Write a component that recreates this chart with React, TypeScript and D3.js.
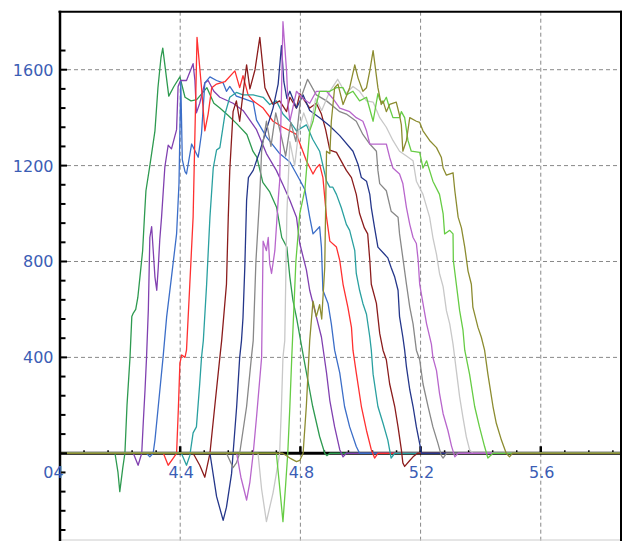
import * as d3 from "d3"

// x positions (energy) and counts, one array per trace
const GREEN: [number, number][] = [
  [4.0, 0], [4.166, 0], [4.183, 0], [4.193, -80], [4.199, -160], [4.209, -60], [4.216, 0], [4.223, 200], [4.233, 400],
  [4.239, 570], [4.244, 585], [4.252, 600], [4.259, 650], [4.266, 735], [4.275, 845], [4.281, 985], [4.286, 1095],
  [4.299, 1200], [4.316, 1345], [4.326, 1525], [4.336, 1650], [4.342, 1690], [4.362, 1490], [4.379, 1530],
  [4.399, 1570], [4.416, 1485], [4.436, 1470], [4.455, 1475], [4.489, 1525], [4.512, 1460], [4.532, 1440],
  [4.559, 1410], [4.588, 1375], [4.622, 1330], [4.642, 1260], [4.655, 1235], [4.675, 1130], [4.698, 1090],
  [4.721, 1025], [4.738, 900], [4.755, 860], [4.765, 735], [4.775, 640], [4.788, 560], [4.805, 440], [4.821, 330],
  [4.841, 195], [4.864, 70], [4.881, 0], [4.888, -10], [4.898, 0], [5.9, 0],
]

const PURPLE: [number, number][] = [
  [4.0, 0], [4.244, 0], [4.26, -50], [4.272, 0], [4.277, 125], [4.283, 265], [4.288, 400], [4.294, 600], [4.299, 900],
  [4.305, 945], [4.31, 850], [4.316, 735], [4.322, 680], [4.327, 775], [4.332, 890], [4.338, 985], [4.349, 1195],
  [4.36, 1285], [4.371, 1270], [4.388, 1350], [4.393, 1530], [4.401, 1555], [4.421, 1555], [4.443, 1625],
  [4.449, 1555], [4.454, 1420], [4.465, 1460], [4.482, 1545], [4.493, 1555], [4.512, 1510], [4.532, 1485],
  [4.576, 1460], [4.609, 1430], [4.654, 1350], [4.687, 1250], [4.72, 1180], [4.742, 1120], [4.765, 1055],
  [4.787, 985], [4.798, 875], [4.82, 765], [4.831, 680], [4.853, 570], [4.87, 485], [4.887, 335], [4.898, 220],
  [4.914, 110], [4.931, 15], [4.942, -15], [4.953, 0], [5.9, 0],
]

const BLUE: [number, number][] = [
  [4.0, 0], [4.288, 0], [4.299, -15], [4.31, 0], [4.316, 55], [4.327, 195], [4.343, 400], [4.355, 570], [4.371, 735],
  [4.388, 915], [4.396, 1125], [4.402, 1550], [4.407, 1225], [4.416, 1175], [4.421, 1165], [4.438, 1290],
  [4.46, 1235], [4.471, 1335], [4.482, 1545], [4.499, 1570], [4.521, 1555], [4.543, 1545], [4.554, 1510],
  [4.565, 1530], [4.587, 1490], [4.609, 1480], [4.643, 1465], [4.654, 1390], [4.687, 1320], [4.731, 1250],
  [4.765, 1215], [4.798, 1140], [4.815, 1100], [4.831, 985], [4.842, 915], [4.864, 945], [4.87, 860], [4.875, 680],
  [4.892, 625], [4.903, 540], [4.914, 430], [4.931, 335], [4.947, 195], [4.964, 110], [4.986, 28], [4.997, 0], [5.9, 0],
]

const RED: [number, number][] = [
  [4.0, 0], [4.344, 0], [4.36, -50], [4.377, -20], [4.388, 0], [4.394, 190], [4.399, 375], [4.405, 410], [4.416, 400],
  [4.421, 430], [4.432, 705], [4.443, 985], [4.456, 1735], [4.471, 1525], [4.482, 1345], [4.493, 1415],
  [4.505, 1525], [4.521, 1540], [4.549, 1550], [4.582, 1595], [4.598, 1525], [4.609, 1575], [4.626, 1495],
  [4.643, 1470], [4.676, 1440], [4.709, 1385], [4.742, 1360], [4.787, 1330], [4.82, 1220], [4.842, 1165],
  [4.853, 1190], [4.864, 1205], [4.875, 1150], [4.887, 985], [4.898, 885], [4.92, 860], [4.931, 805], [4.942, 705],
  [4.958, 610], [4.97, 525], [4.975, 430], [4.986, 335], [5.003, 195], [5.02, 95], [5.036, 15], [5.047, -20],
  [5.058, 0], [5.9, 0],
]

const TEAL: [number, number][] = [
  [4.0, 0], [4.404, 0], [4.421, -50], [4.432, -10], [4.443, 85], [4.454, 110], [4.465, 290], [4.471, 400],
  [4.477, 470], [4.488, 705], [4.499, 985], [4.51, 1190], [4.521, 1265], [4.532, 1275], [4.549, 1415],
  [4.565, 1485], [4.587, 1505], [4.609, 1495], [4.643, 1495], [4.676, 1485], [4.698, 1455], [4.72, 1470],
  [4.742, 1415], [4.765, 1385], [4.787, 1345], [4.82, 1370], [4.841, 1310], [4.864, 1260], [4.887, 1135],
  [4.898, 1110], [4.908, 1110], [4.92, 1080], [4.936, 1025], [4.953, 955], [4.964, 930], [4.981, 845],
  [4.986, 750], [4.997, 680], [5.008, 625], [5.02, 580], [5.031, 485], [5.036, 430], [5.042, 330], [5.058, 195],
  [5.075, 125], [5.091, 55], [5.102, -20], [5.114, 0], [5.9, 0],
]

const MAROON: [number, number][] = [
  [4.0, 0], [4.443, 0], [4.465, -50], [4.482, -100], [4.499, 0], [4.515, 195], [4.532, 400], [4.538, 470],
  [4.554, 705], [4.56, 985], [4.565, 1180], [4.576, 1425], [4.587, 1470], [4.598, 1385], [4.609, 1500],
  [4.621, 1620], [4.632, 1520], [4.649, 1600], [4.665, 1735], [4.682, 1525], [4.693, 1495], [4.709, 1455],
  [4.731, 1470], [4.754, 1425], [4.765, 1485], [4.787, 1440], [4.798, 1500], [4.831, 1440], [4.853, 1460],
  [4.87, 1415], [4.884, 1350], [4.898, 1265], [4.92, 1255], [4.953, 1180], [4.97, 1150], [4.986, 1080],
  [4.997, 1000], [5.013, 940], [5.024, 915], [5.031, 805], [5.036, 705], [5.053, 625], [5.064, 500], [5.075, 430],
  [5.086, 390], [5.097, 290], [5.114, 195], [5.125, 110], [5.136, 15], [5.141, -40], [5.147, -55], [5.164, -30],
  [5.175, -15], [5.19, 0], [5.9, 0],
]

const NAVY: [number, number][] = [
  [4.0, 0], [4.499, 0], [4.521, -180], [4.543, -280], [4.554, -225], [4.571, -85], [4.576, 0], [4.588, 195],
  [4.598, 400], [4.604, 470], [4.609, 565], [4.615, 775], [4.621, 1055], [4.627, 1150], [4.643, 1180],
  [4.654, 1220], [4.665, 1260], [4.687, 1350], [4.709, 1440], [4.726, 1540], [4.737, 1700], [4.745, 1550],
  [4.755, 1480], [4.765, 1510], [4.787, 1440], [4.809, 1495], [4.831, 1430], [4.864, 1400], [4.898, 1365],
  [4.931, 1325], [4.975, 1260], [4.992, 1205], [5.003, 1150], [5.02, 1135], [5.031, 1080], [5.036, 1025],
  [5.047, 940], [5.058, 860], [5.08, 830], [5.091, 815], [5.102, 775], [5.114, 735], [5.125, 680], [5.13, 570],
  [5.141, 485], [5.147, 430], [5.153, 360], [5.164, 265], [5.175, 195], [5.186, 110], [5.197, 40], [5.203, 0],
  [5.9, 0],
]

const GRAY: [number, number][] = [
  [4.0, 0], [4.554, 0], [4.576, -60], [4.587, -40], [4.598, 0], [4.621, 195], [4.637, 400], [4.643, 470],
  [4.652, 800], [4.665, 1080], [4.671, 1260], [4.687, 1385], [4.702, 1280], [4.718, 1420], [4.735, 1330],
  [4.751, 1240], [4.768, 1380], [4.785, 1300], [4.801, 1480], [4.824, 1560], [4.853, 1495], [4.887, 1470],
  [4.931, 1425], [4.953, 1415], [4.986, 1385], [5.008, 1330], [5.031, 1290], [5.053, 1260], [5.058, 1180],
  [5.064, 1125], [5.086, 1095], [5.102, 1010], [5.125, 985], [5.13, 915], [5.141, 815], [5.153, 705],
  [5.164, 610], [5.175, 540], [5.186, 430], [5.197, 390], [5.208, 290], [5.225, 195], [5.241, 110], [5.258, 40],
  [5.269, -10], [5.275, -20], [5.286, 0], [5.9, 0],
]

const LIGHT_GRAY: [number, number][] = [
  [4.0, 0], [4.659, 0], [4.671, -150], [4.687, -285], [4.709, -165], [4.72, -85], [4.731, 0], [4.737, 195],
  [4.742, 400], [4.748, 470], [4.755, 1000], [4.765, 1300], [4.781, 1200], [4.795, 1350], [4.811, 1420],
  [4.831, 1350], [4.851, 1480], [4.871, 1430], [4.898, 1510], [4.924, 1560], [4.951, 1500], [4.975, 1530],
  [4.997, 1510], [5.02, 1470], [5.042, 1465], [5.064, 1400], [5.086, 1360], [5.108, 1305], [5.13, 1260],
  [5.153, 1240], [5.175, 1220], [5.186, 1135], [5.208, 1080], [5.23, 985], [5.241, 900], [5.253, 830],
  [5.263, 750], [5.275, 695], [5.286, 595], [5.297, 540], [5.308, 455], [5.319, 345], [5.33, 235], [5.341, 150],
  [5.352, 70], [5.363, 15], [5.374, 0], [5.9, 0],
]

const LILAC: [number, number][] = [
  [4.0, 0], [4.588, 0], [4.602, -100], [4.621, -195], [4.632, -120], [4.643, 0], [4.654, 150], [4.671, 400],
  [4.676, 885], [4.687, 845], [4.693, 900], [4.698, 790], [4.704, 750], [4.715, 845], [4.726, 1055],
  [4.731, 1135], [4.742, 1800], [4.754, 1595], [4.759, 1455], [4.765, 1385], [4.787, 1510], [4.808, 1480],
  [4.831, 1460], [4.853, 1510], [4.887, 1510], [4.908, 1480], [4.931, 1440], [4.964, 1425], [4.986, 1400],
  [5.008, 1385], [5.02, 1345], [5.031, 1290], [5.064, 1290], [5.086, 1290], [5.097, 1235], [5.108, 1190],
  [5.13, 1165], [5.141, 1125], [5.153, 1025], [5.164, 955], [5.175, 900], [5.186, 875], [5.192, 805],
  [5.197, 705], [5.208, 625], [5.22, 540], [5.236, 455], [5.241, 400], [5.253, 345], [5.263, 250], [5.275, 165],
  [5.291, 95], [5.303, 30], [5.314, -15], [5.325, 0], [5.9, 0],
]

const LIGHT_GREEN: [number, number][] = [
  [4.0, 0], [4.72, 0], [4.731, -140], [4.742, -285], [4.751, -130], [4.758, 0], [4.765, 195], [4.771, 390],
  [4.785, 800], [4.798, 1000], [4.815, 1100], [4.831, 1345], [4.842, 1385], [4.853, 1455], [4.864, 1510],
  [4.898, 1510], [4.92, 1525], [4.942, 1525], [4.953, 1495], [4.975, 1510], [4.997, 1470], [5.02, 1485],
  [5.042, 1385], [5.058, 1500], [5.064, 1475], [5.075, 1460], [5.086, 1485], [5.097, 1440], [5.108, 1400],
  [5.13, 1400], [5.136, 1425], [5.147, 1400], [5.158, 1305], [5.169, 1260], [5.197, 1255], [5.208, 1190],
  [5.22, 1220], [5.241, 1135], [5.263, 1080], [5.275, 1000], [5.28, 915], [5.297, 930], [5.308, 915],
  [5.309, 805], [5.319, 705], [5.33, 595], [5.341, 515], [5.347, 430], [5.363, 330], [5.38, 195], [5.396, 110],
  [5.413, 28], [5.424, -20], [5.441, 0], [5.9, 0],
]

const OLIVE: [number, number][] = [
  [4.0, 0], [4.741, 0], [4.765, -20], [4.787, -35], [4.798, -30], [4.809, 0], [4.82, 200], [4.831, 470],
  [4.842, 635], [4.853, 570], [4.864, 620], [4.871, 560], [4.881, 775], [4.887, 1260], [4.898, 1250],
  [4.903, 1385], [4.914, 1525], [4.925, 1540], [4.942, 1455], [4.964, 1525], [4.981, 1620], [4.992, 1565],
  [5.008, 1510], [5.02, 1525], [5.031, 1595], [5.042, 1680], [5.058, 1525], [5.069, 1455], [5.075, 1470],
  [5.086, 1425], [5.097, 1455], [5.119, 1465], [5.13, 1410], [5.136, 1370], [5.141, 1260], [5.153, 1305],
  [5.164, 1400], [5.186, 1385], [5.197, 1380], [5.208, 1345], [5.23, 1305], [5.253, 1275], [5.269, 1235],
  [5.275, 1190], [5.286, 1160], [5.308, 1170], [5.314, 1095], [5.325, 985], [5.336, 940], [5.347, 860],
  [5.358, 760], [5.369, 705], [5.374, 610], [5.391, 525], [5.402, 485], [5.413, 430], [5.424, 330], [5.441, 195],
  [5.452, 125], [5.469, 55], [5.485, 0], [5.496, -15], [5.506, 0], [5.9, 0],
]

const SERIES = [GREEN, PURPLE, BLUE, RED, TEAL, MAROON, NAVY, GRAY, LIGHT_GRAY, LILAC, LIGHT_GREEN, OLIVE]
const COLORS = [
  "#2e9a50", "#8040b0", "#3c6ec8", "#ff3030", "#2aa0a0", "#8b1c1c",
  "#24368a", "#888888", "#c8c8c8", "#b866cc", "#66cc44", "#8c8c30",
]

const X_TICKS = [4.0, 4.4, 4.8, 5.2, 5.6]
const X_LABELS = ["4", "4.4", "4.8", "5.2", "5.6"]
const Y_TICKS = [400, 800, 1200, 1600]
const Y_LABELS = ["400", "800", "1200", "1600"]

const W = 625
const H = 541
const LEFT = 60
const RIGHT = 621
const TOP = 11.7
const LABEL_COLOR = "#3b5db5"
const FONT = "'DejaVu Sans', Verdana, sans-serif"

export default function App() {
  const x = d3.scaleLinear().domain([4.0, 5.867]).range([LEFT, RIGHT])
  const y = d3.scaleLinear().domain([-366, 1842]).range([H, TOP])
  const line = d3.line<[number, number]>().x((d) => x(d[0])).y((d) => y(d[1]))

  const minorY = d3.range(-320, 1681, 80)
  const minorX = d3.range(4.08, 5.85, 0.08)
  const y0 = y(0)

  return (
    <svg width={W} height={H} style={{ position: "absolute", left: 0, top: 0, background: "#fff" }}>
      <defs>
        <clipPath id="plot">
          <rect x={LEFT} y={TOP} width={RIGHT - LEFT} height={H - TOP} />
        </clipPath>
      </defs>

      {/* grid */}
      {Y_TICKS.map((v) => (
        <line key={"gy" + v} x1={LEFT} x2={RIGHT} y1={y(v)} y2={y(v)} stroke="#888" strokeDasharray="4,3" />
      ))}
      {X_TICKS.slice(1).map((v) => (
        <line key={"gx" + v} x1={x(v)} x2={x(v)} y1={TOP} y2={H} stroke="#888" strokeDasharray="4,3" />
      ))}

      {/* bottom edge */}
      <line x1={LEFT} x2={RIGHT} y1={H - 1} y2={H - 1} stroke="#ccc" />

      {/* zero axis */}
      <line x1={LEFT} x2={RIGHT} y1={y0} y2={y0} stroke="#000" strokeWidth={3} />
      {minorX.map((v) => (
        <line key={"mx" + v} x1={x(v)} x2={x(v)} y1={y0 - 3} y2={y0} stroke="#000" strokeWidth={1.5} />
      ))}
      {X_TICKS.slice(1).map((v) => (
        <line key={"tx" + v} x1={x(v)} x2={x(v)} y1={y0 - 7} y2={y0} stroke="#000" strokeWidth={2.5} />
      ))}

      {/* traces */}
      <g clipPath="url(#plot)">
        {SERIES.map((s, i) => (
          <path key={i} d={line(s) || ""} fill="none" stroke={COLORS[i]} strokeWidth={1.3} strokeLinejoin="round" />
        ))}
      </g>

      {/* frame */}
      <line x1={LEFT - 1.5} x2={RIGHT + 1} y1={TOP} y2={TOP} stroke="#000" strokeWidth={2} />
      <line x1={RIGHT} x2={RIGHT} y1={TOP - 1} y2={H} stroke="#000" strokeWidth={2} />
      <line x1={LEFT} x2={LEFT} y1={TOP - 1} y2={H} stroke="#000" strokeWidth={2.5} />
      {minorY.map((v) => (
        <line key={"my" + v} x1={LEFT} x2={LEFT + (v % 400 === 0 ? 7 : 5.5)} y1={y(v)} y2={y(v)} stroke="#000" strokeWidth={2} />
      ))}

      {/* labels */}
      <g fontFamily={FONT} fontSize={16} fill={LABEL_COLOR}>
        {Y_TICKS.map((v, i) => (
          <text key={"ly" + v} x={LEFT - 6.5} y={y(v) + 6} textAnchor="end">
            {Y_LABELS[i]}
          </text>
        ))}
        <text x={LEFT - 6.5} y={y0 + 24.5} textAnchor="end">
          0
        </text>
        {X_TICKS.map((v, i) => (
          <text key={"lx" + v} x={x(v) + (i === 0 ? -1.5 : 1)} y={y0 + 24.5} textAnchor="middle">
            {X_LABELS[i]}
          </text>
        ))}
      </g>
    </svg>
  )
}
